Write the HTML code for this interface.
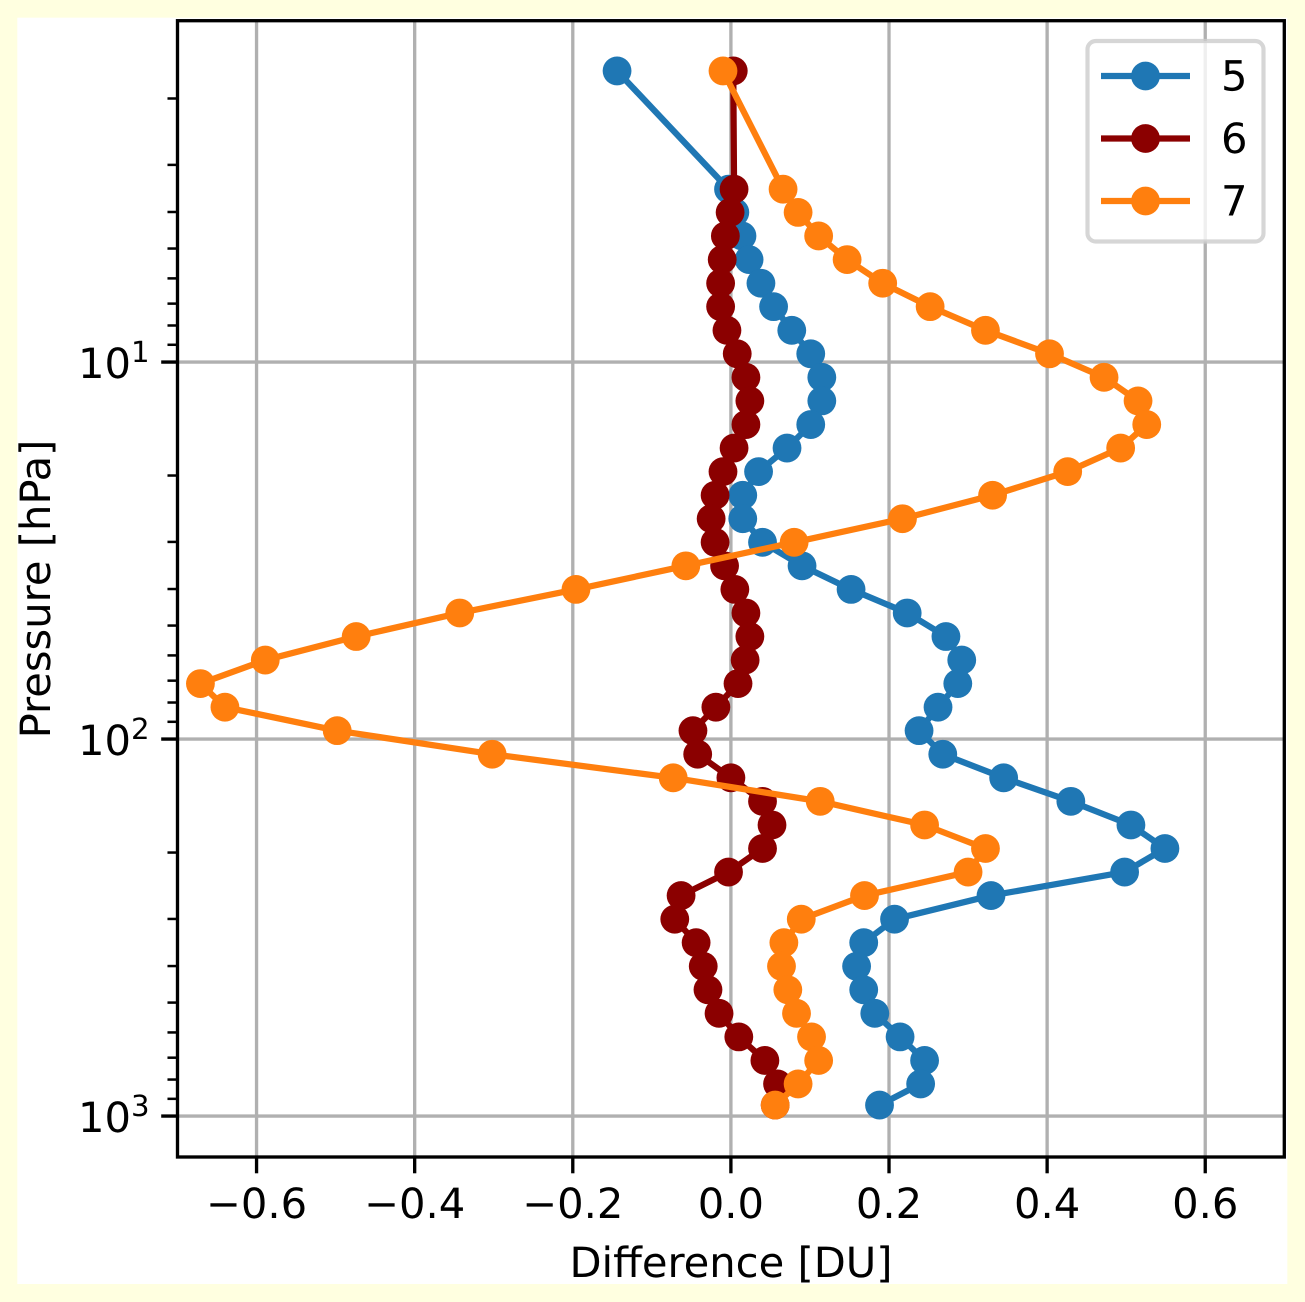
<!DOCTYPE html>
<html>
<head>
<meta charset="utf-8">
<title>Pressure vs Difference</title>
<style>
html,body{margin:0;padding:0;background:#ffffe0;}
svg{display:block;}
text{font-family:"DejaVu Sans","Liberation Sans",sans-serif;fill:#000;text-rendering:geometricPrecision;}
</style>
</head>
<body>
<svg id="chart" xmlns="http://www.w3.org/2000/svg" width="1305" height="1302" viewBox="0 0 1305 1302">
<rect x="0" y="0" width="1305" height="1302" fill="#ffffe0"/>
<rect x="17.3" y="17.7" width="1270" height="1266.3" fill="#ffffff"/>
<rect x="177.5" y="20.7" width="1106.8" height="1136.3" fill="#ffffff"/>
<g id="grid"></g>
<g id="series"></g>
<g id="ticks"></g>
<g id="spines"></g>
<g id="legend"></g>
<text x="731" y="1277" font-size="41.67" text-anchor="middle">Difference [DU]</text>
<text transform="translate(50,589) rotate(-90)" font-size="41.67" text-anchor="middle">Pressure [hPa]</text>
</svg>
<script>
const pressure = [1.69,3.48,4.01,4.63,5.35,6.18,7.13,8.24,9.51,10.98,12.68,14.65,16.91,19.53,22.56,26.04,30.07,34.72,40.09,46.30,53.46,61.72,71.27,82.30,95.0,109.7,126.7,146.3,169.0,195.1,225.3,260.1,300.4,346.7,400.5,462.4,533.9,616.5,711.9,821.7,935];
const series5 = [-0.144,-0.003,0.005,0.014,0.023,0.038,0.054,0.077,0.101,0.115,0.115,0.101,0.071,0.035,0.015,0.015,0.040,0.090,0.152,0.223,0.272,0.292,0.287,0.262,0.238,0.268,0.345,0.430,0.506,0.549,0.498,0.329,0.207,0.168,0.159,0.168,0.182,0.214,0.245,0.240,0.188];
const series6 = [0.003,0.004,-0.001,-0.007,-0.011,-0.013,-0.013,-0.005,0.008,0.019,0.024,0.019,0.004,-0.010,-0.020,-0.025,-0.020,-0.008,0.005,0.019,0.024,0.018,0.009,-0.019,-0.048,-0.042,0.000,0.040,0.052,0.040,-0.003,-0.063,-0.071,-0.044,-0.035,-0.029,-0.015,0.010,0.043,0.059,0.056];
const series7 = [-0.010,0.066,0.085,0.111,0.147,0.192,0.252,0.322,0.403,0.472,0.515,0.526,0.493,0.426,0.331,0.217,0.080,-0.057,-0.196,-0.343,-0.474,-0.589,-0.671,-0.640,-0.498,-0.302,-0.073,0.113,0.245,0.322,0.300,0.169,0.089,0.067,0.064,0.072,0.083,0.102,0.111,0.085,0.056];
const seriesNames = ["5","6","7"];
const xTicks = [-0.6,-0.4,-0.2,0.0,0.2,0.4,0.6];
const xTickLabels = ["\u22120.6","\u22120.4","\u22120.2","0.0","0.2","0.4","0.6"];
const yTicks = [10,100,1000];
const yTickExponents = ["1","2","3"];
const yMinorTicks = [2,3,4,5,6,7,8,9,20,30,40,50,60,70,80,90,200,300,400,500,600,700,800,900];

const NS = "http://www.w3.org/2000/svg";
const plotLeft = 177.5, plotRight = 1284.3, plotTop = 20.7, plotBottom = 1157;
const xMin = -0.7, xMax = 0.7;
const logTop = 0.0947, logBottom = 3.1085;
function xScale(v){ return plotLeft + (v - xMin) / (xMax - xMin) * (plotRight - plotLeft); }
function yScale(p){ return plotTop + (Math.log10(p) - logTop) / (logBottom - logTop) * (plotBottom - plotTop); }
function make(tag, attrs, parent){
  const el = document.createElementNS(NS, tag);
  for (const k in attrs) el.setAttribute(k, attrs[k]);
  parent.appendChild(el);
  return el;
}
const gridG = document.getElementById("grid");
const ticksG = document.getElementById("ticks");
const seriesG = document.getElementById("series");
const spinesG = document.getElementById("spines");
const legendG = document.getElementById("legend");

xTicks.forEach(function(t, i){
  const x = xScale(t);
  const g = make("line", {x1:x, x2:x, y1:plotTop, y2:plotBottom, stroke:"#b0b0b0", "stroke-width":3.33}, gridG);
  
  
  const m = make("line", {x1:x, x2:x, y1:plotBottom, y2:plotBottom+14.6+1.7, stroke:"#000", "stroke-width":3.33}, ticksG);
  
  
  const l = make("text", {x:x, y:1218, "font-size":41.67, "text-anchor":"middle"}, ticksG);
  l.textContent = xTickLabels[i];
  
  
});
yTicks.forEach(function(t, i){
  const y = yScale(t);
  const g = make("line", {x1:plotLeft, x2:plotRight, y1:y, y2:y, stroke:"#b0b0b0", "stroke-width":3.33}, gridG);
  
  
  const m = make("line", {x1:plotLeft-14.6-1.7, x2:plotLeft, y1:y, y2:y, stroke:"#000", "stroke-width":3.33}, ticksG);
  
  
  const l = make("text", {x:78, y:y+16, "font-size":41.67}, ticksG);
  
  
  const base = make("tspan", {}, l);
  base.textContent = "10";
  const sup = make("tspan", {dy:-16, "font-size":29.2}, l);
  sup.textContent = yTickExponents[i];
});
yMinorTicks.forEach(function(t){
  const y = yScale(t);
  const m = make("line", {x1:plotLeft-8.33-1.7, x2:plotLeft, y1:y, y2:y, stroke:"#000", "stroke-width":2.5}, ticksG);
  
  
});

const colors = ["#1f77b4","#8b0000","#ff7f0e"];
[series5, series6, series7].forEach(function(vals, si){
  const g = make("g", {}, seriesG);
  
  
  const pts = vals.map(function(v, i){ return xScale(v).toFixed(2) + "," + yScale(pressure[i]).toFixed(2); }).join(" ");
  const line = make("polyline", {points:pts, fill:"none", stroke:colors[si], "stroke-width":6.25, "stroke-linejoin":"round", "stroke-linecap":"butt"}, g);
  
  
  vals.forEach(function(v, i){
    const c = make("circle", {cx:xScale(v), cy:yScale(pressure[i]), r:14.4, fill:colors[si]}, g);
    
    
  });
});

const frame = make("rect", {x:plotLeft, y:plotTop, width:plotRight-plotLeft, height:plotBottom-plotTop, fill:"none", stroke:"#000", "stroke-width":3.33}, spinesG);



const box = make("rect", {x:1087.5, y:41, width:176, height:200.5, rx:8.3, ry:8.3, fill:"#fff", "fill-opacity":0.8, stroke:"#ccc", "stroke-opacity":0.8, "stroke-width":4.17}, legendG);


const legendY = [76, 138.5, 201];
seriesNames.forEach(function(name, i){
  const g = make("g", {}, legendG);
  
  
  const y = legendY[i];
  const hl = make("line", {x1:1101, x2:1190, y1:y, y2:y, stroke:colors[i], "stroke-width":6.25}, g);
  
  
  const hc = make("circle", {cx:1145.5, cy:y, r:14.4, fill:colors[i]}, g);
  
  
  const ht = make("text", {x:1221, y:y+14.7, "font-size":41.67}, g);
  ht.textContent = name;
  
  
});
</script>
</body>
</html>
